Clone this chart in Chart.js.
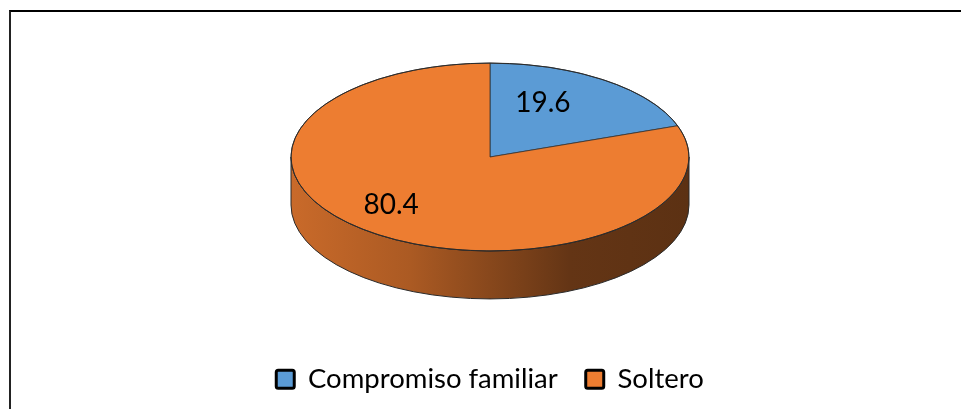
<!DOCTYPE html>
<html lang="es">
<head>
    <meta charset="UTF-8">
    <title>Compromiso familiar / Soltero</title>
    <script src="https://cdn.jsdelivr.net/npm/chart.js@4"></script>
    <style>
        html, body { margin: 0; padding: 0; background: #fff; overflow: hidden; }
        .frame {
            position: absolute; left: 9px; top: 10px; width: 1000px; height: 420px;
            border-top: 2px solid #000; border-left: 2px solid #222;
        }
        .chart-box { position: absolute; left: 0; top: 0; width: 961px; height: 409px; }
    </style>
</head>
<body>
    <div class="frame"></div>
    <div class="chart-box"><canvas id="pieChart"></canvas></div>

    <script>
const categories = ['Compromiso familiar', 'Soltero'];
const percentages = [19.6, 80.4];

const FONT = 'Lato, "Open Sans", sans-serif';

// darken a hex colour by a factor
function shade(hex, f) {
    const n = parseInt(hex.slice(1), 16);
    const r = Math.round(((n >> 16) & 255) * f);
    const g = Math.round(((n >> 8) & 255) * f);
    const b = Math.round((n & 255) * f);
    return `rgb(${r}, ${g}, ${b})`;
}

// squashes the pie into an ellipse and adds a side wall + value labels
const tiltPlugin = {
    id: 'tilt',
    beforeDatasetsDraw(chart, args, opts) {
        const arcs = chart.getDatasetMeta(0).data;
        if (!arcs.length) return;
        const ctx = chart.ctx;
        const cx = arcs[0].x, cy = arcs[0].y, r = arcs[0].outerRadius;
        const ry = r * opts.ratio, top = opts.centerY, d = opts.depth;

        arcs.forEach(arc => {
            const a0 = Math.max(arc.startAngle, 0);
            const a1 = Math.min(arc.endAngle, Math.PI);
            if (a1 <= a0) return;
            const base = arc.options.backgroundColor;
            const grad = ctx.createLinearGradient(cx - r, 0, cx + r, 0);
            grad.addColorStop(0, shade(base, 0.85));
            grad.addColorStop(0.3, shade(base, 0.72));
            grad.addColorStop(0.7, shade(base, 0.42));
            grad.addColorStop(1, shade(base, 0.39));
            ctx.beginPath();
            ctx.ellipse(cx, top, r, ry, 0, a0, a1, false);
            ctx.ellipse(cx, top + d, r, ry, 0, a1, a0, true);
            ctx.closePath();
            ctx.fillStyle = grad;
            ctx.fill();
            ctx.lineWidth = 1;
            ctx.strokeStyle = '#2a2a2a';
            ctx.stroke();
        });

        ctx.save();
        ctx.translate(0, top - cy * opts.ratio);
        ctx.scale(1, opts.ratio);
    },
    afterDatasetsDraw(chart, args, opts) {
        const arcs = chart.getDatasetMeta(0).data;
        if (!arcs.length) return;
        const ctx = chart.ctx;
        ctx.restore();
        const cx = arcs[0].x, r = arcs[0].outerRadius;
        const ry = r * opts.ratio, top = opts.centerY;

        ctx.beginPath();
        ctx.ellipse(cx, top, r, ry, 0, 0, Math.PI * 2);
        ctx.lineWidth = 1;
        ctx.strokeStyle = '#2a2a2a';
        ctx.stroke();

        ctx.save();
        ctx.font = `28px ${FONT}`;
        ctx.fillStyle = '#000';
        ctx.textAlign = 'center';
        ctx.textBaseline = 'middle';
        arcs.forEach((arc, i) => {
            const mid = (arc.startAngle + arc.endAngle) / 2;
            const x = cx + Math.cos(mid) * r * opts.labelRadius + opts.labelShiftX;
            const y = top + Math.sin(mid) * ry * opts.labelRadius + opts.labelShiftY;
            ctx.fillText(percentages[i].toFixed(1), x, y);
        });
        ctx.restore();
    }
};

const ctx = document.getElementById('pieChart').getContext('2d');
new Chart(ctx, {
    type: 'pie',
    data: {
        labels: categories,
        datasets: [{
            data: percentages,
            backgroundColor: ['#5b9bd5', '#ed7d31'],
            borderColor: '#2a2a2a',
            borderWidth: 1,
            radius: 199,
            clip: false
        }]
    },
    options: {
        responsive: true,
        maintainAspectRatio: false,
        animation: false,
        layout: { padding: { left: 19, bottom: 6 } },
        plugins: {
            tooltip: { enabled: false },
            legend: {
                position: 'bottom',
                labels: {
                    color: '#000',
                    font: { family: FONT, size: 27.5 },
                    boxWidth: 18,
                    boxHeight: 18,
                    padding: 28,
                    useBorderRadius: true,
                    generateLabels(chart) {
                        const ds = chart.data.datasets[0];
                        return chart.data.labels.map((text, i) => ({
                            text: text,
                            fillStyle: ds.backgroundColor[i],
                            strokeStyle: '#000',
                            lineWidth: 3,
                            borderRadius: 2,
                            fontColor: '#000',
                            hidden: false,
                            index: i
                        }));
                    }
                }
            },
            tilt: {
                ratio: 0.472, depth: 48, centerY: 157,
                labelRadius: 0.66, labelShiftX: -23, labelShiftY: -3
            }
        }
    },
    plugins: [tiltPlugin]
});
    </script>
</body>
</html>
